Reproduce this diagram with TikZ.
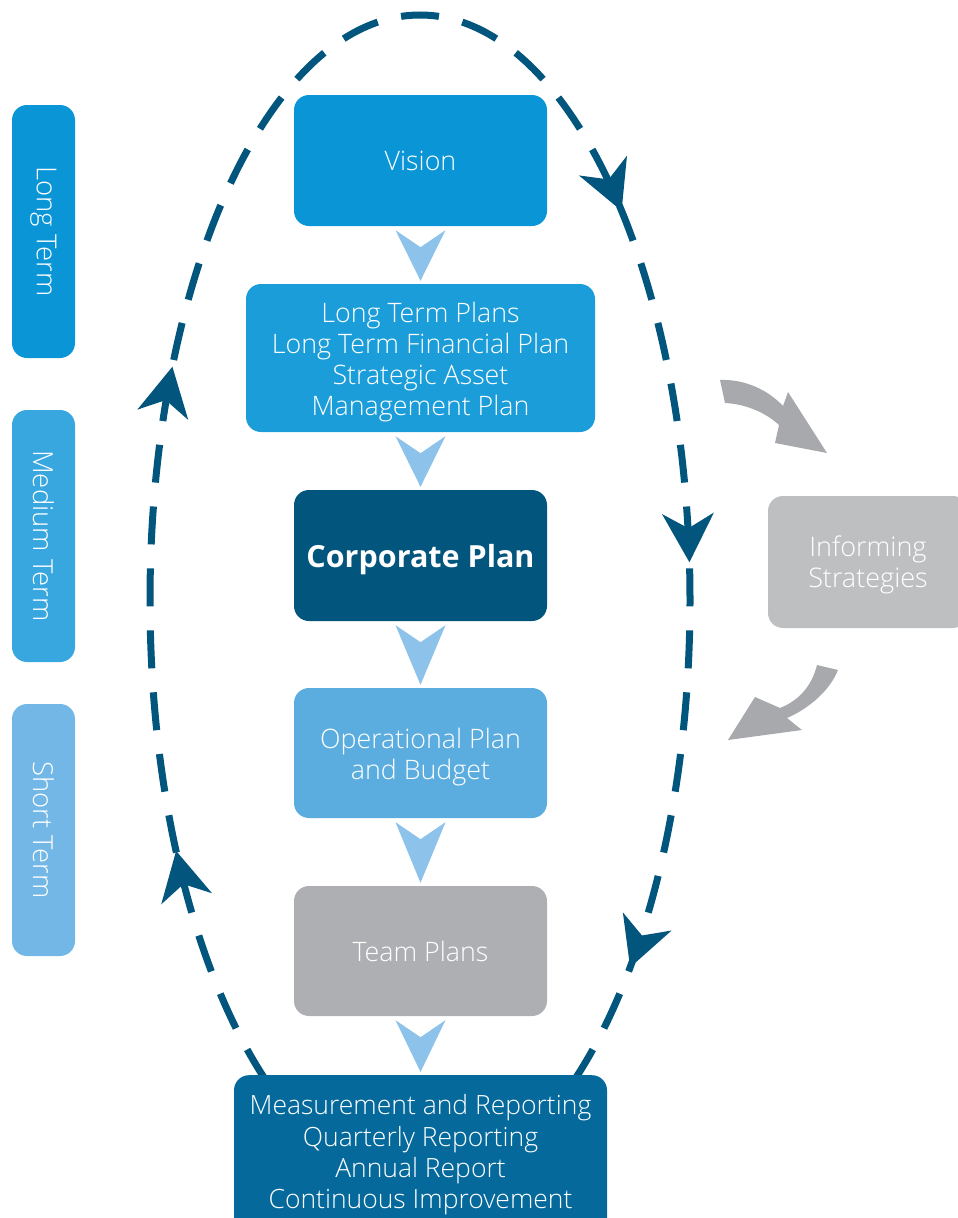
\documentclass[tikz,border=0pt]{standalone}
\usepackage{fontspec}
\IfFontExistsTF{Open Sans Light}{\setmainfont{Open Sans Light}}{\setmainfont{Open Sans}}
\newfontfamily\osans{Open Sans}
\usetikzlibrary{calc}
\definecolor{navy}{HTML}{02557D}
\definecolor{cVision}{HTML}{0A95D6}
\definecolor{cLTP}{HTML}{1B9DDA}
\definecolor{cMed}{HTML}{38A6DF}
\definecolor{cShort}{HTML}{72B7E5}
\definecolor{cOp}{HTML}{5BADE0}
\definecolor{cTeam}{HTML}{ADAFB2}
\definecolor{cMeas}{HTML}{05699C}
\definecolor{cInf}{HTML}{BEBFC1}
\definecolor{cChev}{HTML}{8DC3EB}
\definecolor{cGrayArr}{HTML}{A7A9AC}
\newcommand\chevron[2]{%
  \fill[cChev] ($(#1.south)+(-25,4)$) -- ($(#1.south)+(0,21)$) -- ($(#1.south)+(25,4)$) -- ($(#2.north)+(0,-3)$) -- cycle;}
\begin{document}
\begin{tikzpicture}[x=1pt,y=-1pt,
  box/.style={rounded corners=15pt, inner sep=0pt},
  boxtext/.style={text=white, align=center, inner sep=0pt, font=\fontsize{26.8}{31.3}\selectfont},
  side/.style={box, minimum width=63pt, minimum height=252pt},
  sidelabel/.style={text=white, rotate=-90, font=\fontsize{27.5}{30}\selectfont, inner sep=0pt},
  loopline/.style={draw=navy, line width=7pt, dash pattern=on 38pt off 24pt, dash phase=55.8pt}]
\useasboundingbox (0,0) rectangle (958,1218);
\clip (0,0) rectangle (958,1218);

% side bars
\node[side, fill=cVision, minimum height=253pt] (lt) at (43.5,231.5) {};
\node[sidelabel] (ltl) at (lt.center) {Long Term};
\node[side, fill=cMed] (mt) at (43.5,536) {};
\node[sidelabel] (mtl) at (mt.center) {Medium Term};
\node[side, fill=cShort] (st) at (43.5,830) {};
\node[sidelabel] (stl) at (st.center) {Short Term};

% dashed loop (starts at the bottom, hidden behind the last box)
\draw[loopline] (420,1185) arc[start angle=90, end angle=450, x radius=270, y radius=585];
\foreach \t in {-41.7,-3.7,38.9,154.6,203.5}{
  \pgfmathsetmacro\ang{atan2(-585*cos(\t),-270*sin(\t))}
  \fill[navy, shift={({420+270*cos(\t)},{600+585*sin(\t)})}, rotate=\ang]
    (0,0) -- (-49,26) -- (-34,0) -- (-49,-26) -- cycle;
}

% main boxes
\node[box, fill=cVision, minimum width=253pt, minimum height=131pt] (vision) at (420.5,160.5) {};
\node[boxtext] (visionl) at (420.5,161) {Vision};
\node[box, fill=cLTP, minimum width=349pt, minimum height=148pt] (ltp) at (420.5,358) {};
\node[boxtext] (ltpl) at (420.5,362)
  {Long Term Plans\\Long Term Financial Plan\\Strategic Asset\\Management Plan};
\node[box, fill=navy, minimum width=253pt, minimum height=131pt] (corp) at (420.5,555.5) {};
\node[text=white, inner sep=0pt, font=\osans\bfseries\fontsize{30.5}{31}\selectfont] (corpl)
  at (420.5,560) {Corporate Plan};
\node[box, fill=cOp, minimum width=253pt, minimum height=130pt] (op) at (420.5,753) {};
\node[boxtext] (opl) at (420.5,757) {Operational Plan\\and Budget};
\node[box, fill=cTeam, minimum width=253pt, minimum height=130pt] (team) at (420.5,951) {};
\node[boxtext] (teaml) at (420.5,951.5) {Team Plans};
\node[box, fill=cMeas, minimum width=373pt, minimum height=160pt, anchor=north] (meas) at (420.5,1075) {};
\node[boxtext, font=\fontsize{26.5}{31.3}\selectfont] (measl) at (420.5,1155)
  {Measurement and Reporting\\Quarterly Reporting\\Annual Report\\Continuous Improvement};
\node[box, fill=cInf, minimum width=200pt, minimum height=132pt] (inf) at (868,562) {};
\node[boxtext, font=\fontsize{27}{31.3}\selectfont] (infl) at (868,565) {Informing\\Strategies};

% chevrons
\chevron{vision}{ltp}
\chevron{ltp}{corp}
\chevron{corp}{op}
\chevron{op}{team}
\chevron{team}{meas}

% grey curved arrows
\fill[cGrayArr] (720,380) .. controls (745,379) and (768,390) .. (783,406) -- (788,392) -- (827,453)
  -- (775,443) -- (779,425) .. controls (765,412) and (745,404) .. (725,403) -- cycle;
\fill[cGrayArr] (817,665) .. controls (812,685) and (800,700) .. (780,708) -- (755,697) -- (728,740)
  -- (802,730) -- (787,718) .. controls (810,708) and (830,690) .. (838,670) -- cycle;
\end{tikzpicture}
\end{document}
